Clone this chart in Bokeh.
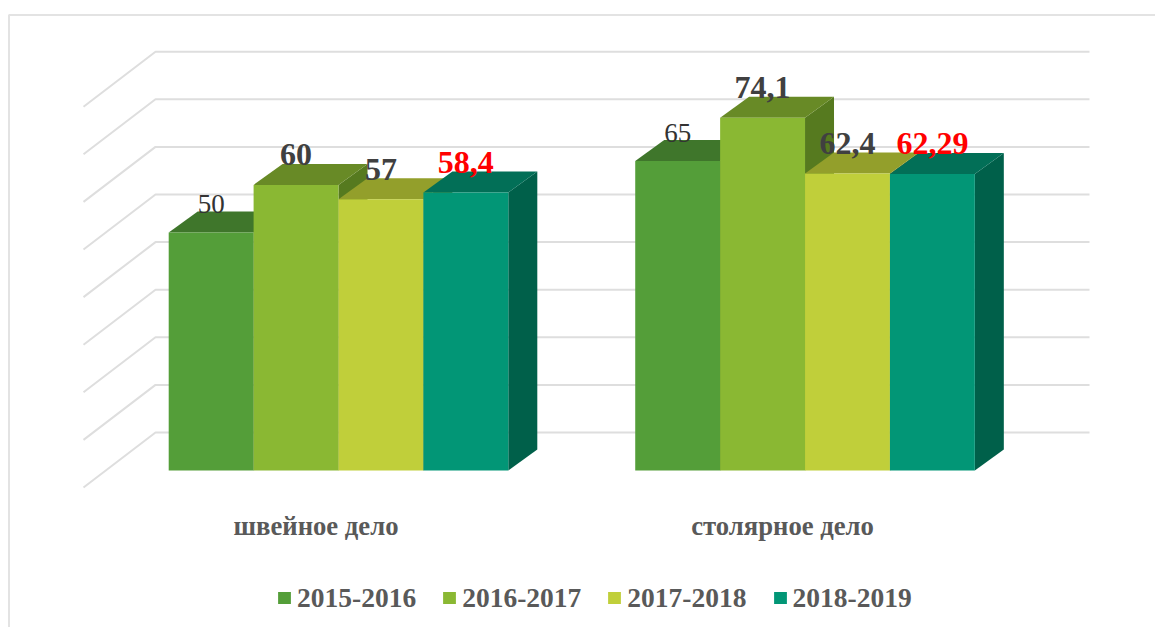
from bokeh.plotting import figure
from bokeh.models import Range1d, Legend, LegendItem, ColumnDataSource
from bokeh.core.properties import value
from bokeh.embed import file_html
from bokeh.resources import INLINE

categories = ["швейное дело", "столярное дело"]
seasons = ["2015-2016", "2016-2017", "2017-2018", "2018-2019"]
sewing = [50, 60, 57, 58.4]
carpentry = [65, 74.1, 62.4, 62.29]
sewing_labels = ["50", "60", "57", "58,4"]
carpentry_labels = ["65", "74,1", "62,4", "62,29"]
grid_values = [0, 10, 20, 30, 40, 50, 60, 70, 80]
front_colors = ["#549E39", "#8AB833", "#C0CF3A", "#029676"]
top_colors = ["#3F762B", "#688A26", "#939F2B", "#026F57"]
side_colors = ["#325F22", "#567A1F", "#737C23", "#00604A"]
label_colors = ["#333333", "#404040", "#404040", "#FF0000"]
label_weights = ["normal", "bold", "bold", "bold"]
label_sizes = ["27px", "32px", "32px", "32px"]
label_offsets = [-28.5, -30, -30, -30]

W, H = 1155, 627
PXX, PXY = 84.9, 4.76
group_centers = [0.0, 5.495]
depth_x, depth_y = 29 / PXX, 21 / PXY

p = figure(width=W, height=H, output_backend="svg", toolbar_location=None,
           x_range=Range1d(-338 / PXX, (W - 338) / PXX),
           y_range=Range1d((470 - H) / PXY, 470 / PXY),
           min_border=0, outline_line_color=None, background_fill_color="white",
           border_fill_color="white")
p.axis.visible = False
p.grid.visible = False

# back wall grid and floor-side diagonals
wall_l, wall_r, wall_front = (155 - 338) / PXX, (1089 - 338) / PXX, (83 - 338) / PXX
wall_back_dy, wall_front_dy = 38 / PXY, -17 / PXY
for g in grid_values:
    p.line([wall_front, wall_l, wall_r],
           [g + wall_front_dy, g + wall_back_dy, g + wall_back_dy],
           line_color="#DEDEDE", line_width=2)

# outer frame of the chart
fx = (8.5 - 338) / PXX
fy = (470 - 14.5) / PXY
p.line([fx, fx, p.x_range.end], [p.y_range.start, fy, fy], line_color="#E3E3E3", line_width=2)

items = []
for gi, (center, vals) in enumerate(zip(group_centers, [sewing, carpentry])):
    for i, v in enumerate(vals):
        x0 = center - 2 + i
        x1 = x0 + 1
        # side face
        p.patch([x1, x1 + depth_x, x1 + depth_x, x1], [0, depth_y, v + depth_y, v],
                fill_color=side_colors[i], line_color=None)
        # top face
        p.patch([x0, x1, x1 + depth_x, x0 + depth_x], [v, v, v + depth_y, v + depth_y],
                fill_color=top_colors[i], line_color=None)
        # front face
        r = p.quad(left=x0, right=x1, bottom=0, top=v, fill_color=front_colors[i], line_color=None)
        if gi == 0:
            items.append(LegendItem(label=seasons[i], renderers=[r]))

for center, vals, labs in zip(group_centers, [sewing, carpentry], [sewing_labels, carpentry_labels]):
    for i, v in enumerate(vals):
        p.text([center - 1.5 + i], [v], text=[labs[i]], text_font=value("Liberation Serif"),
               text_font_size=label_sizes[i], text_font_style=label_weights[i],
               text_color=label_colors[i], text_align="center", text_baseline="alphabetic",
               y_offset=label_offsets[i])

cat_y = (470 - 525) / PXY
src = ColumnDataSource(dict(x=group_centers, y=[cat_y, cat_y], t=categories))
p.text(x="x", y="y", text="t", source=src, x_offset=-22.5, text_font=value("Liberation Serif"),
       text_font_size="26.7px", text_font_style="bold", text_color="#595959",
       text_align="center", text_baseline="alphabetic")

legend = Legend(items=items, orientation="horizontal", location=(276, 13.5),
                glyph_width=16, glyph_height=15, label_standoff=5, spacing=25,
                padding=0, margin=0, border_line_color=None, background_fill_alpha=0,
                label_text_font="Liberation Serif", label_text_font_size="27.5px",
                label_text_font_style="bold", label_text_color="#595959")
p.add_layout(legend, "center")

open("out.html", "w").write(file_html(p, INLINE))
